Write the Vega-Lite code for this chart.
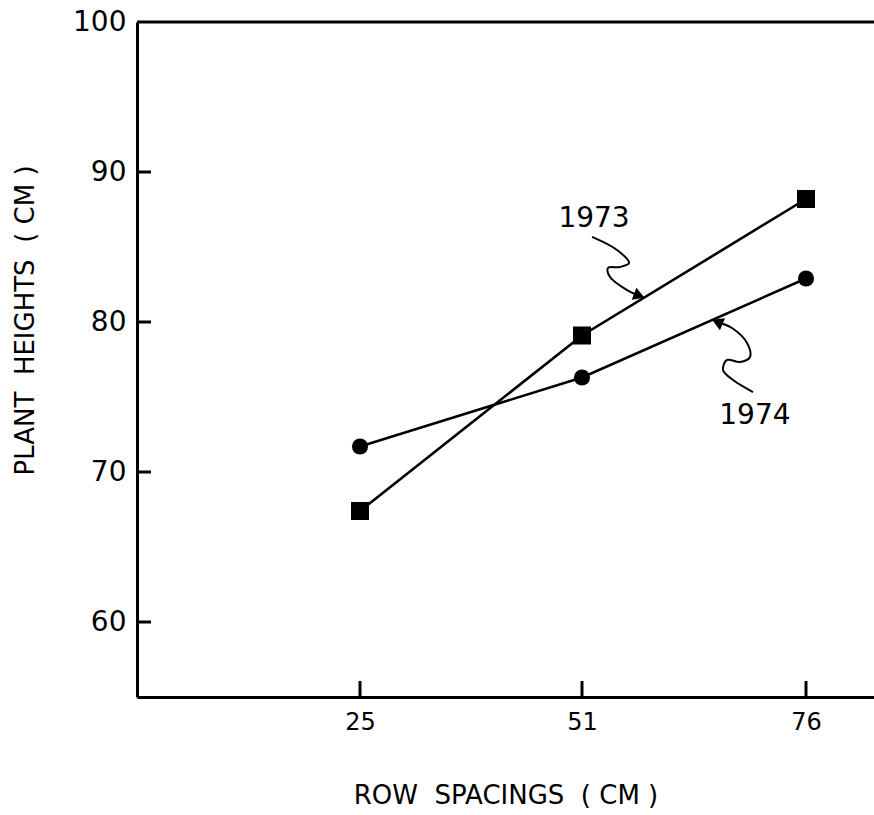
{
  "$schema": "https://vega.github.io/schema/vega-lite/v6.json",
  "width": 737,
  "height": 675,
  "autosize": {"type": "none"},
  "padding": {"left": 137, "top": 22, "right": 0, "bottom": 118},
  "background": "white",
  "config": {
    "view": {"stroke": null},
    "font": "DejaVu Sans",
    "axis": {"grid": false, "ticks": false, "domainColor": "black", "domainWidth": 3, "labelColor": "black", "titleColor": "black", "titleFontWeight": "normal", "labelFont": "DejaVu Sans", "titleFont": "DejaVu Sans"}
  },
  "datasets": {
    "series": [
      {"spacing": 25, "height": 67.4, "year": "1973"},
      {"spacing": 51, "height": 79.1, "year": "1973"},
      {"spacing": 76, "height": 88.2, "year": "1973"},
      {"spacing": 25, "height": 71.7, "year": "1974"},
      {"spacing": 51, "height": 76.3, "year": "1974"},
      {"spacing": 76, "height": 82.9, "year": "1974"}
    ],
    "yticks": [{"height": 60}, {"height": 70}, {"height": 80}, {"height": 90}],
    "xticks": [{"spacing": 25}, {"spacing": 51}, {"spacing": 76}],
    "arrows": [
      {"arrow": "1973", "k": 1, "spacing": 52.12, "height": 85.67},
      {"arrow": "1973", "k": 2, "spacing": 54.91, "height": 84.8},
      {"arrow": "1973", "k": 3, "spacing": 56.25, "height": 83.93},
      {"arrow": "1973", "k": 4, "spacing": 55.24, "height": 83.67},
      {"arrow": "1973", "k": 5, "spacing": 53.9, "height": 83.6},
      {"arrow": "1973", "k": 6, "spacing": 54.13, "height": 83.0},
      {"arrow": "1973", "k": 7, "spacing": 56.03, "height": 82.13},
      {"arrow": "1973", "k": 8, "spacing": 57.4, "height": 81.75},
      {"arrow": "1974", "k": 1, "spacing": 66.1, "height": 80.0},
      {"arrow": "1974", "k": 2, "spacing": 67.74, "height": 79.6},
      {"arrow": "1974", "k": 3, "spacing": 69.42, "height": 78.6},
      {"arrow": "1974", "k": 4, "spacing": 69.75, "height": 77.67},
      {"arrow": "1974", "k": 5, "spacing": 68.63, "height": 77.33},
      {"arrow": "1974", "k": 6, "spacing": 67.18, "height": 77.47},
      {"arrow": "1974", "k": 7, "spacing": 66.74, "height": 76.8},
      {"arrow": "1974", "k": 8, "spacing": 67.86, "height": 76.13},
      {"arrow": "1974", "k": 9, "spacing": 70.08, "height": 75.33}
    ],
    "heads": [
      {"spacing": 57.4, "height": 81.75, "angle": 21},
      {"spacing": 66.1, "height": 80.0, "angle": 203}
    ],
    "labels": [
      {"spacing": 52.34, "height": 86.87, "text": "1973"},
      {"spacing": 70.3, "height": 73.73, "text": "1974"}
    ]
  },
  "layer": [
    {
      "data": {"name": "series"},
      "mark": {"type": "line", "color": "black", "strokeWidth": 2.6},
      "encoding": {
        "x": {"field": "spacing", "type": "quantitative",
              "scale": {"domain": [0, 25, 51, 76, 84], "range": [0, 223, 445, 669, 737], "nice": false, "zero": false},
              "axis": {"values": [25, 51, 76], "title": "ROW\u00a0\u00a0SPACINGS\u00a0\u00a0(\u00a0CM\u00a0)", "labelFontSize": 24, "labelPadding": 13, "titleFontSize": 26, "titlePadding": 48}},
        "y": {"field": "height", "type": "quantitative",
              "scale": {"domain": [55, 100], "nice": false, "zero": false},
              "axis": {"values": [60, 70, 80, 90, 100], "title": "PLANT\u00a0\u00a0HEIGHTS\u00a0\u00a0(\u00a0CM\u00a0)", "labelFontSize": 28, "labelPadding": 11, "titleFontSize": 26, "titleX": -112, "titleY": 298, "titleBaseline": "middle"}},
        "detail": {"field": "year"}
      }
    },
    {
      "data": {"name": "yticks"},
      "mark": {"type": "tick", "orient": "horizontal", "color": "black", "thickness": 3, "size": 28, "clip": true, "opacity": 1},
      "encoding": {
        "x": {"datum": 0, "type": "quantitative"},
        "y": {"field": "height", "type": "quantitative"}
      }
    },
    {
      "data": {"name": "xticks"},
      "mark": {"type": "tick", "orient": "vertical", "color": "black", "thickness": 3, "size": 32, "clip": true, "opacity": 1},
      "encoding": {
        "x": {"field": "spacing", "type": "quantitative"},
        "y": {"datum": 55, "type": "quantitative"}
      }
    },
    {
      "data": {"name": "series"},
      "mark": {"type": "point", "filled": true, "color": "black", "opacity": 1},
      "encoding": {
        "x": {"field": "spacing", "type": "quantitative"},
        "y": {"field": "height", "type": "quantitative"},
        "shape": {"field": "year", "type": "nominal", "scale": {"domain": ["1973", "1974"], "range": ["square", "circle"]}, "legend": null},
        "size": {"field": "year", "type": "nominal", "scale": {"domain": ["1973", "1974"], "range": [324, 260]}, "legend": null}
      }
    },
    {
      "data": {"values": [{"height": 100}]},
      "mark": {"type": "rule", "color": "black", "strokeWidth": 3},
      "encoding": {"y": {"field": "height", "type": "quantitative"}}
    },
    {
      "data": {"name": "arrows"},
      "mark": {"type": "line", "color": "black", "strokeWidth": 2, "interpolate": "catmull-rom"},
      "encoding": {
        "x": {"field": "spacing", "type": "quantitative"},
        "y": {"field": "height", "type": "quantitative"},
        "detail": {"field": "arrow"},
        "order": {"field": "k"}
      }
    },
    {
      "data": {"name": "heads"},
      "mark": {"type": "point", "shape": "triangle-right", "filled": true, "color": "black", "opacity": 1, "size": 170},
      "encoding": {
        "x": {"field": "spacing", "type": "quantitative"},
        "y": {"field": "height", "type": "quantitative"},
        "angle": {"field": "angle", "type": "quantitative", "scale": null}
      }
    },
    {
      "data": {"name": "labels"},
      "mark": {"type": "text", "font": "DejaVu Sans", "fontSize": 28, "color": "black", "baseline": "middle", "align": "center"},
      "encoding": {
        "x": {"field": "spacing", "type": "quantitative"},
        "y": {"field": "height", "type": "quantitative"},
        "text": {"field": "text"}
      }
    }
  ]
}
